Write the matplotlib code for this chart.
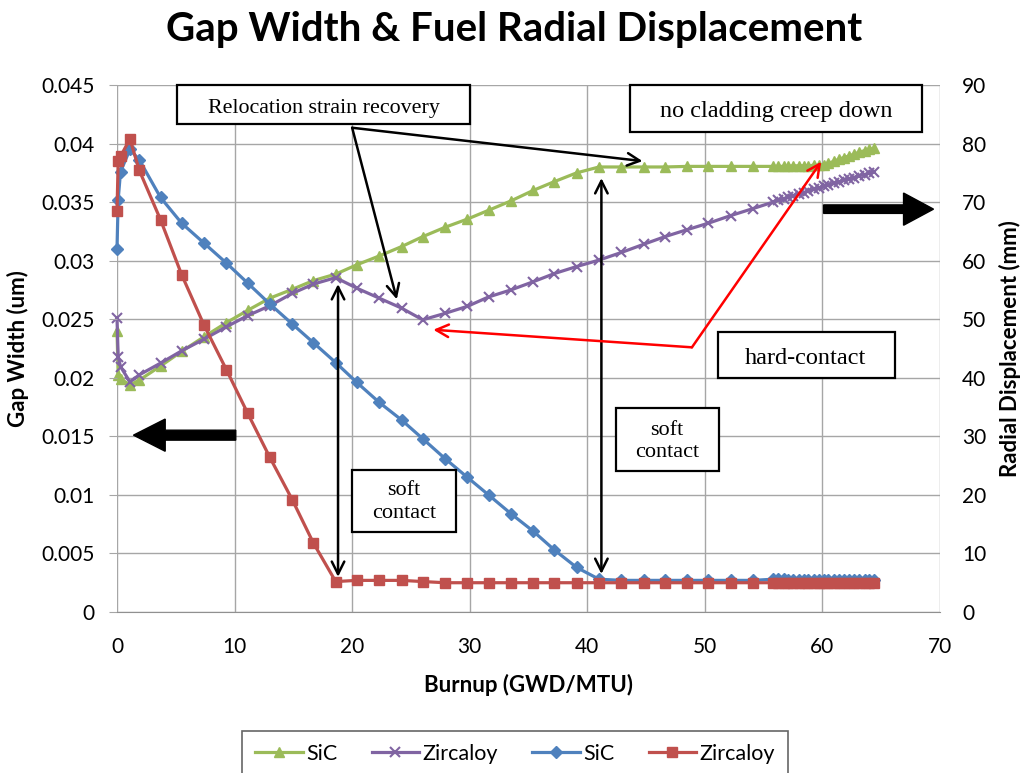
import matplotlib.pyplot as plt
from matplotlib.patches import Rectangle, FancyArrow

plt.rcParams['font.family'] = ['Lato', 'DejaVu Sans']

# burnup steps (GWD/MTU), dense output near end of life
burnup = [0.0, 0.1, 0.3, 1.1, 1.9, 3.7, 5.5, 7.4, 9.3, 11.1,
          13.0, 14.9, 16.7, 18.6, 20.4, 22.3, 24.2, 26.0, 27.9, 29.8,
          31.6, 33.5, 35.4, 37.2, 39.1, 41.0, 42.9, 44.8, 46.6, 48.5,
          50.3, 52.2, 54.1,
          55.8, 56.2, 56.7, 57.1, 57.5, 58.0, 58.4, 58.8, 59.3, 59.7,
          60.1, 60.5, 61.0, 61.4, 61.8, 62.3, 62.7, 63.1, 63.6, 64.0, 64.4]

# gap width (left axis)
sic_gap = [0.0310, 0.0352, 0.0376, 0.0395, 0.0386, 0.0354, 0.0332, 0.0315, 0.0298, 0.0281,
           0.0263, 0.0246, 0.0230, 0.0213, 0.0196, 0.0179, 0.0164, 0.0148, 0.0131, 0.0115,
           0.0100, 0.0084, 0.0069, 0.0053, 0.0038, 0.0028, 0.0027, 0.0027, 0.0027, 0.0027,
           0.0027, 0.0027, 0.0027,
           0.0028, 0.0028, 0.0028, 0.0027, 0.0027, 0.0027, 0.0027, 0.0027, 0.0027, 0.0027,
           0.0027, 0.0027, 0.0027, 0.0027, 0.0027, 0.0027, 0.0027, 0.0027, 0.0027, 0.0027, 0.0027]
zr_gap = [0.0342, 0.0385, 0.0389, 0.0404, 0.0377, 0.0335, 0.0288, 0.0245, 0.0207, 0.0170,
          0.0132, 0.0096, 0.0059, 0.0026, 0.0027, 0.0027, 0.0027, 0.0026, 0.0025, 0.0025,
          0.0025, 0.0025, 0.0025, 0.0025, 0.0025, 0.0025, 0.0025, 0.0025, 0.0025, 0.0025,
          0.0025, 0.0025, 0.0025,
          0.0025, 0.0025, 0.0025, 0.0025, 0.0025, 0.0025, 0.0025, 0.0025, 0.0025, 0.0025,
          0.0025, 0.0025, 0.0025, 0.0025, 0.0025, 0.0025, 0.0025, 0.0025, 0.0025, 0.0025, 0.0025]

# fuel radial displacement (right axis)
sic_disp = [48.0, 40.5, 39.8, 38.8, 39.6, 42.0, 44.5, 47.0, 49.4, 51.5,
            53.6, 55.1, 56.6, 57.7, 59.3, 60.8, 62.4, 64.1, 65.7, 67.1,
            68.6, 70.2, 72.0, 73.5, 75.0, 76.0, 76.0, 76.0, 76.0, 76.1,
            76.1, 76.1, 76.1,
            76.1, 76.1, 76.1, 76.1, 76.2, 76.2, 76.2, 76.2, 76.3, 76.3,
            76.4, 76.6, 77.0, 77.3, 77.6, 77.9, 78.2, 78.5, 78.8, 79.0, 79.2]
zr_disp = [50.2, 43.6, 41.9, 39.3, 40.5, 42.5, 44.6, 46.6, 48.7, 50.6,
           52.3, 54.4, 56.0, 57.1, 55.3, 53.6, 51.9, 49.9, 51.0, 52.2,
           53.8, 55.0, 56.4, 57.8, 59.0, 60.1, 61.4, 62.8, 64.1, 65.3,
           66.4, 67.7, 68.9,
           70.0, 70.3, 70.6, 70.8, 71.1, 71.4, 71.6, 71.9, 72.2, 72.4,
           72.7, 72.9, 73.2, 73.4, 73.7, 74.0, 74.2, 74.5, 74.7, 75.0, 75.2]

gap_ticks = [0, 0.005, 0.01, 0.015, 0.02, 0.025, 0.03, 0.035, 0.04, 0.045]
disp_ticks = [0, 10, 20, 30, 40, 50, 60, 70, 80, 90]
burnup_ticks = [0, 10, 20, 30, 40, 50, 60, 70]

GREEN = '#9BBB59'
PURPLE = '#8064A2'
BLUE = '#4F81BD'
RED = '#C0504D'
GRID = '#A6A6A6'

fig = plt.figure(figsize=(10.24, 7.73), dpi=100)
ax = fig.add_axes([117 / 1024, 1 - 612 / 773, 823 / 1024, 527 / 773])
ax2 = ax.twinx()
# gap curves sit on top of the displacement curves
ax.set_zorder(ax2.get_zorder() + 1)
ax.patch.set_visible(False)

ax2.plot(burnup, sic_disp, color=GREEN, lw=2.3, marker='^', ms=7.5, clip_on=False, label='SiC')
ax2.plot(burnup, zr_disp, color=PURPLE, lw=2.3, marker='x', ms=7, mew=1.5, clip_on=False, label='Zircaloy')
ax.plot(burnup, sic_gap, color=BLUE, lw=2.3, marker='D', ms=6.5, clip_on=False, label='SiC')
ax.plot(burnup, zr_gap, color=RED, lw=2.3, marker='s', ms=6.5, clip_on=False, label='Zircaloy')

ax.set_xlim(0, 70)
ax.set_ylim(0, 0.045)
ax2.set_ylim(0, 90)
ax.set_xticks(burnup_ticks)
ax.set_yticks(gap_ticks)
ax.set_yticklabels([f'{v:g}' for v in gap_ticks])
ax2.set_yticks(disp_ticks)

# grid lives on the lower axes so it stays under every curve
ax2.xaxis.set_visible(True)
ax2.tick_params(axis='x', bottom=False, top=False, labelbottom=False, labeltop=False)
ax2.grid(True, color=GRID, lw=1)
for a in (ax, ax2):
    for s in a.spines.values():
        s.set_visible(False)
ax.spines['bottom'].set_visible(True)
ax.spines['bottom'].set_color('#909090')

ax.tick_params(axis='y', length=6, color=GRID, pad=10, labelsize=15)
ax.tick_params(axis='x', length=0, pad=18, labelsize=15)
ax2.tick_params(axis='y', length=0, pad=16, labelsize=15)

ax.set_xlabel('Burnup (GWD/MTU)', fontsize=16, fontweight='bold')
ax.xaxis.set_label_coords(0.5, -0.118)
ax.set_ylabel('Gap Width (um)', fontsize=16, fontweight='bold')
ax.yaxis.set_label_coords(-0.107, 0.5)
ax2.set_ylabel('Radial Displacement (mm)', fontsize=16, fontweight='bold')
ax2.yaxis.set_label_coords(1.072, 0.5)

fig.text(514 / 1024, 1 - 29 / 773, 'Gap Width & Fuel Radial Displacement',
         ha='center', va='center', fontsize=29, fontweight='bold')

# annotation boxes, in burnup / displacement units
serif = 'Liberation Serif'
boxes = [
    ((5.1, 83.3), 24.9, 6.7, 'Relocation strain recovery', (17.6, 86.0), 15.8),
    ((43.6, 82.0), 24.9, 8.0, 'no cladding creep down', (56.1, 85.5), 17.5),
    ((51.1, 40.0), 15.1, 7.8, 'hard-contact', (58.6, 43.3), 17.5),
    ((20.0, 13.7), 8.8, 10.6, 'soft\ncontact', (24.4, 18.8), 16),
    ((42.4, 24.1), 8.8, 10.8, 'soft\ncontact', (46.8, 29.1), 16),
]
for (x0, y0), w, h, txt, (tx, ty), size in boxes:
    ax.add_patch(Rectangle((x0, y0), w, h, transform=ax2.transData, facecolor='white',
                           edgecolor='black', lw=1.6, clip_on=False, zorder=5))
    ax.text(tx, ty, txt, transform=ax2.transData, ha='center', va='center',
            fontsize=size, family=serif, linespacing=1.25, zorder=6)

def arrow(start, end, color='black', style='->'):
    ax.annotate('', xy=end, xytext=start, xycoords=ax2.transData, textcoords=ax2.transData,
                annotation_clip=False, zorder=7,
                arrowprops=dict(arrowstyle=style + ',head_length=0.9,head_width=0.45',
                                color=color, lw=1.8, shrinkA=0, shrinkB=0))

arrow((20.0, 82.7), (44.7, 77.0))
arrow((20.0, 82.7), (23.8, 53.4))
arrow((18.8, 6.0), (18.8, 56.0), style='<->')
arrow((41.2, 6.5), (41.2, 74.1), style='<->')
arrow((48.9, 45.2), (26.9, 48.2), color='red')
arrow((48.9, 45.2), (59.9, 76.9), color='red')

# thick arrows pointing at each series' axis
ax.add_patch(FancyArrow(10.1, 30.2, -8.7, 0, width=1.7, head_width=5.5, head_length=2.7,
                        length_includes_head=True, color='black', transform=ax2.transData,
                        clip_on=False, zorder=7))
ax.add_patch(FancyArrow(60.1, 68.8, 9.35, 0, width=1.45, head_width=5.5, head_length=2.55,
                        length_includes_head=True, color='black', transform=ax2.transData,
                        clip_on=False, zorder=7))

handles = [ax2.lines[0], ax2.lines[1], ax.lines[0], ax.lines[1]]
leg = fig.legend(handles, [h.get_label() for h in handles], loc='upper center',
                 bbox_to_anchor=(515 / 1024, 1 - 731 / 773), ncol=4, fontsize=15.5,
                 frameon=True, fancybox=False, edgecolor='#404040', handlelength=2.2,
                 handletextpad=0.15, columnspacing=1.6, borderaxespad=0, borderpad=0.6)
leg.get_frame().set_linewidth(1.2)

fig.savefig('out.png', dpi=100, facecolor='white')
